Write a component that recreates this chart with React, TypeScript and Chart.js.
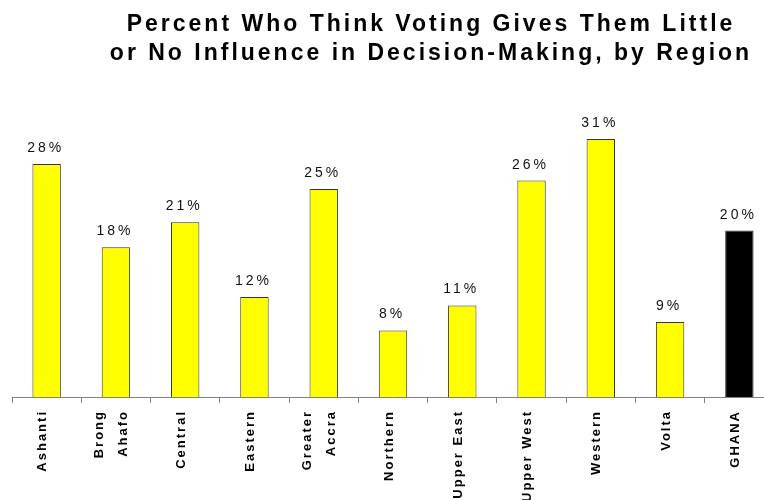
import React, { useEffect, useRef } from "react";
import { Chart, registerables } from "chart.js";

Chart.register(...registerables);

const categories: (string | string[])[] = [
  "Ashanti",
  ["Brong", "Ahafo"],
  "Central",
  "Eastern",
  ["Greater", "Accra"],
  "Northern",
  "Upper East",
  "Upper West",
  "Western",
  "Volta",
  "GHANA",
];
const values: number[] = [28, 18, 21, 12, 25, 8, 11, 26, 31, 9, 20];
const barColors: string[] = [
  "#FFFF00", "#FFFF00", "#FFFF00", "#FFFF00", "#FFFF00", "#FFFF00",
  "#FFFF00", "#FFFF00", "#FFFF00", "#FFFF00", "#000000",
];
const titleLines: string[] = [
  "Percent Who Think Voting Gives Them Little",
  "or No Influence in Decision-Making, by Region",
];

const FONT = "'Liberation Sans', Arial, Helvetica, sans-serif";

export default function App() {
  const ref = useRef<HTMLCanvasElement | null>(null);

  useEffect(() => {
    if (!ref.current) return;
    const valueLabels = {
      id: "valueLabels",
      afterDatasetsDraw(chart: any) {
        const ctx = chart.ctx;
        const meta = chart.getDatasetMeta(0);
        ctx.save();
        ctx.letterSpacing = "3px";
        ctx.font = `14px ${FONT}`;
        ctx.fillStyle = "#111";
        ctx.textAlign = "center";
        ctx.textBaseline = "alphabetic";
        meta.data.forEach((bar: any, i: number) => {
          ctx.fillText(`${values[i]}%`, bar.x - 1, bar.y - 12);
        });
        ctx.restore();
      },
    };
    const categoryLabels = {
      id: "categoryLabels",
      afterDraw(chart: any) {
        const ctx = chart.ctx;
        const xs = chart.scales.x;
        ctx.save();
        ctx.letterSpacing = "2px";
        ctx.font = `bold 13px ${FONT}`;
        ctx.fillStyle = "#000";
        ctx.textAlign = "right";
        ctx.textBaseline = "middle";
        categories.forEach((c, i) => {
          const lines = Array.isArray(c) ? c : [c];
          const x = xs.getPixelForValue(i) - 4;
          const top = xs.top + 15;
          ctx.save();
          ctx.translate(x, top);
          ctx.rotate(-Math.PI / 2);
          lines.forEach((ln, j) => {
            const dy = (j - (lines.length - 1) / 2) * 24;
            ctx.fillText(ln, 2, dy);
          });
          ctx.restore();
        });
        ctx.restore();
      },
    };
    const titlePlugin = {
      id: "titlePlugin",
      afterDraw(chart: any) {
        const ctx = chart.ctx;
        ctx.save();
        ctx.letterSpacing = "3px";
        ctx.font = `bold 23px ${FONT}`;
        ctx.fillStyle = "#000";
        ctx.textAlign = "center";
        ctx.textBaseline = "alphabetic";
        ctx.fillText(titleLines[0], 431, 31);
        ctx.fillText(titleLines[1], 431, 60);
        ctx.restore();
      },
    };
    const chart = new Chart(ref.current, {
      type: "bar",
      data: {
        labels: categories,
        datasets: [
          {
            data: values,
            backgroundColor: barColors,
            borderColor: "#333333",
            borderWidth: 1,
            categoryPercentage: 1,
            barPercentage: 0.41,
          },
        ],
      },
      options: {
        responsive: false,
        animation: false,
        events: [],
        layout: { padding: { left: 12, right: 16, top: 64, bottom: 0 } },
        plugins: {
          legend: { display: false },
          title: { display: false },
          tooltip: { enabled: false },
        },
        scales: {
          x: {
            offset: true,
            grid: {
              display: true,
              offset: true,
              drawOnChartArea: false,
              drawTicks: true,
              tickLength: 6,
              color: "#808080",
            },
            border: { display: true, color: "#808080", width: 1 },
            ticks: { display: false },
            afterFit(scale: any) {
              scale.height = 103;
            },
          },
          y: {
            display: false,
            min: 0,
            max: 40,
          },
        },
      },
      plugins: [valueLabels, categoryLabels, titlePlugin],
    });
    return () => chart.destroy();
  }, []);

  return (
    <div
      style={{
        position: "absolute",
        left: 0,
        top: 0,
        width: 764,
        height: 500,
        overflow: "hidden",
        background: "#fff",
      }}
    >
      <canvas ref={ref} width={790} height={500} style={{ display: "block" }} />
    </div>
  );
}
